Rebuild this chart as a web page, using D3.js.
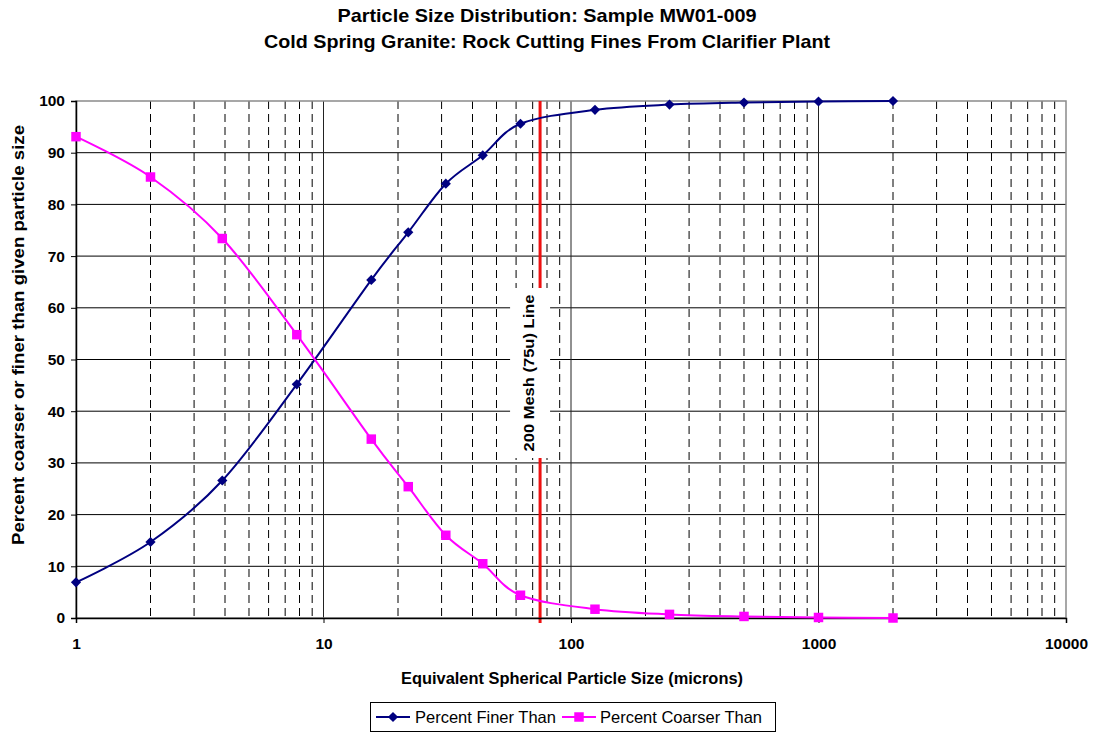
<!DOCTYPE html>
<html>
<head>
<meta charset="utf-8">
<script src="https://cdn.jsdelivr.net/npm/d3@7"></script>
<style>
  html, body { margin: 0; padding: 0; background: #fff; }
  svg { display: block; font-family: "Liberation Sans", Arial, sans-serif; }
</style>
</head>
<body>
<svg id="chart" width="1094" height="735"></svg>
<script>
// Particle sizes (microns) at which the sedigraph reports values
const sizes = [1, 2, 3.9, 7.8, 15.6, 22, 31.2, 44, 62.5, 125, 250, 500, 1000, 2000];
// Cumulative percent finer than each size
const finer = [6.9, 14.7, 26.6, 45.2, 65.4, 74.6, 84.0, 89.5, 95.6, 98.3, 99.3, 99.7, 99.9, 100];
// Cumulative percent coarser than each size
const coarser = [93.1, 85.3, 73.4, 54.8, 34.6, 25.4, 16.0, 10.5, 4.4, 1.7, 0.7, 0.3, 0.1, 0];
// Axis ticks
const xTicks = [1, 10, 100, 1000, 10000];
const yTicks = [0, 10, 20, 30, 40, 50, 60, 70, 80, 90, 100];
// 200 mesh sieve opening (microns)
const meshSize = 75;

const titleLines = [
  "Particle Size Distribution: Sample MW01-009",
  "Cold Spring Granite: Rock Cutting Fines From Clarifier Plant"
];
const xLabel = "Equivalent Spherical Particle Size (microns)";
const yLabel = "Percent coarser or finer than given particle size";
const meshLabel = "200 Mesh (75u) Line";
const seriesNames = ["Percent Finer Than", "Percent Coarser Than"];

const svg = d3.select("#chart");
const plotL = 76, plotR = 1066, plotT = 101, plotB = 618;

const x = d3.scaleLog().domain([1, 10000]).range([plotL, plotR]);
const y = d3.scaleLinear().domain([0, 100]).range([plotB, plotT]);

const finerColor = "#000080";
const coarserColor = "#ff00ff";

// Titles
svg.selectAll("text.title")
  .data(titleLines)
  .join("text")
  .attr("class", "title")
  .attr("x", 547)
  .attr("y", (d, i) => 22 + i * 26)
  .attr("text-anchor", "middle")
  .attr("font-size", 19)
  .attr("font-weight", "bold")
  .attr("textLength", (d, i) => i === 0 ? 419 : 566)
  .attr("lengthAdjust", "spacingAndGlyphs")
  .text(d => d);

// Minor log gridlines (dashed)
const minor = [];
for (let dec = 1; dec < 10000; dec *= 10) {
  for (let k = 2; k <= 9; k++) minor.push(dec * k);
}
const grid = svg.append("g");
grid.selectAll("line.minor")
  .data(minor)
  .join("line")
  .attr("class", "minor")
  .attr("x1", d => x(d)).attr("x2", d => x(d))
  .attr("y1", plotT).attr("y2", plotB)
  .attr("stroke", "#000")
  .attr("stroke-width", 1)
  .attr("stroke-dasharray", "8,5");

// Major gridlines
grid.selectAll("line.hgrid")
  .data(yTicks.slice(1, -1))
  .join("line")
  .attr("class", "hgrid")
  .attr("x1", plotL).attr("x2", plotR)
  .attr("y1", d => y(d)).attr("y2", d => y(d))
  .attr("stroke", "#000")
  .attr("stroke-width", 1);
grid.selectAll("line.vgrid")
  .data(xTicks.slice(1, -1))
  .join("line")
  .attr("class", "vgrid")
  .attr("x1", d => x(d)).attr("x2", d => x(d))
  .attr("y1", plotT).attr("y2", plotB)
  .attr("stroke", "#222")
  .attr("stroke-width", 1);

// Plot area border
svg.append("rect")
  .attr("x", plotL).attr("y", plotT)
  .attr("width", plotR - plotL).attr("height", plotB - plotT)
  .attr("fill", "none")
  .attr("stroke", "#8a8a8a")
  .attr("stroke-width", 1.5);

// 200 mesh line
const xm = x(meshSize);
svg.append("line")
  .attr("x1", xm).attr("x2", xm)
  .attr("y1", plotT).attr("y2", plotB + 5)
  .attr("stroke", "#ee1111")
  .attr("stroke-width", 3);

// Label box for the mesh line
svg.append("rect")
  .attr("x", xm - 30).attr("y", 288)
  .attr("width", 40).attr("height", 170)
  .attr("fill", "#fff");
svg.append("text")
  .attr("transform", `translate(${xm - 6},373) rotate(-90)`)
  .attr("text-anchor", "middle")
  .attr("font-size", 15)
  .attr("font-weight", "bold")
  .attr("textLength", 157)
  .attr("lengthAdjust", "spacingAndGlyphs")
  .text(meshLabel);

// Axes
const yAxis = svg.append("g")
  .attr("transform", `translate(${plotL},0)`)
  .call(d3.axisLeft(y).tickValues(yTicks).tickSize(5).tickPadding(6));
const xAxis = svg.append("g")
  .attr("transform", `translate(0,${plotB})`)
  .call(d3.axisBottom(x).tickValues(xTicks).tickFormat(d3.format("d")).tickSize(5).tickPadding(15));
[yAxis, xAxis].forEach(g => {
  g.select(".domain").attr("stroke", "#000").attr("stroke-width", 1.5);
  g.selectAll(".tick line").attr("stroke", "#000");
  g.selectAll(".tick text")
    .attr("font-size", 15.5)
    .attr("font-weight", "bold")
    .attr("font-family", "Liberation Sans, Arial, sans-serif")
    .attr("fill", "#000");
});

// Axis titles
svg.append("text")
  .attr("x", 572).attr("y", 684)
  .attr("text-anchor", "middle")
  .attr("font-size", 16)
  .attr("font-weight", "bold")
  .attr("textLength", 342)
  .attr("lengthAdjust", "spacingAndGlyphs")
  .text(xLabel);
svg.append("text")
  .attr("transform", "translate(24,335) rotate(-90)")
  .attr("text-anchor", "middle")
  .attr("font-size", 16)
  .attr("font-weight", "bold")
  .attr("textLength", 420)
  .attr("lengthAdjust", "spacingAndGlyphs")
  .text(yLabel);

// Series
const line = d3.line()
  .x(d => x(d[0]))
  .y(d => y(d[1]))
  .curve(d3.curveCatmullRom.alpha(0));

const series = [
  { name: seriesNames[0], values: finer, color: finerColor, symbol: "diamond" },
  { name: seriesNames[1], values: coarser, color: coarserColor, symbol: "square" }
];

function marker(sel, s) {
  if (s.symbol === "diamond") {
    sel.attr("d", d3.symbol(d3.symbolSquare, 52)())
       .attr("fill", s.color);
  } else {
    sel.attr("d", d3.symbol(d3.symbolSquare, 90)())
       .attr("fill", s.color);
  }
}
function markerTransform(s, px, py) {
  return s.symbol === "diamond" ? `translate(${px},${py}) rotate(45)` : `translate(${px},${py})`;
}

series.forEach(s => {
  const pts = sizes.map((v, i) => [v, s.values[i]]);
  svg.append("path")
    .datum(pts)
    .attr("d", line)
    .attr("fill", "none")
    .attr("stroke", s.color)
    .attr("stroke-width", 2);
  svg.append("g").selectAll("path")
    .data(pts)
    .join("path")
    .each(function () { marker(d3.select(this), s); })
    .attr("transform", d => markerTransform(s, x(d[0]), y(d[1])));
});

// Legend
const lg = svg.append("g");
lg.append("rect")
  .attr("x", 370.5).attr("y", 702.5)
  .attr("width", 405).attr("height", 29)
  .attr("fill", "#fff")
  .attr("stroke", "#000")
  .attr("stroke-width", 1);
const legendItems = [
  { s: series[0], x0: 376, x1: 410, tx: 415 },
  { s: series[1], x0: 562, x1: 596, tx: 600 }
];
legendItems.forEach(it => {
  const cy = 717;
  lg.append("line")
    .attr("x1", it.x0).attr("x2", it.x1)
    .attr("y1", cy).attr("y2", cy)
    .attr("stroke", it.s.color)
    .attr("stroke-width", 2);
  lg.append("path")
    .each(function () { marker(d3.select(this), it.s); })
    .attr("transform", markerTransform(it.s, (it.x0 + it.x1) / 2, cy));
  lg.append("text")
    .attr("x", it.tx).attr("y", cy + 6)
    .attr("font-size", 16.5)
    .text(it.s.name);
});
</script>
</body>
</html>
